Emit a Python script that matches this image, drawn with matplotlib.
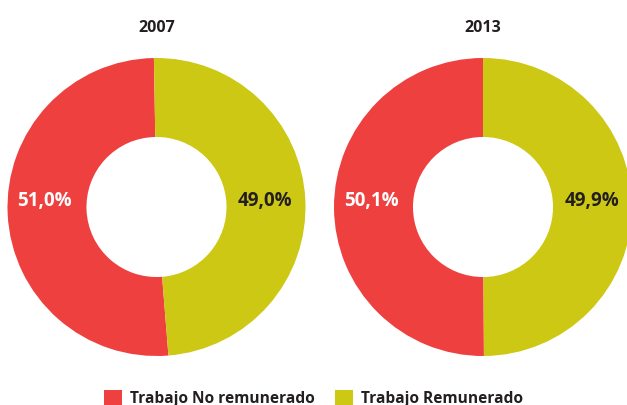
import matplotlib.pyplot as plt
from matplotlib.patches import Patch

plt.rcParams['font.family'] = ['Open Sans', 'DejaVu Sans']

years = ['2007', '2013']
categories = ['Trabajo No remunerado', 'Trabajo Remunerado']
no_remunerado = [51.0, 50.1]
remunerado = [49.0, 49.9]

colors = ['#EF4040', '#CCC814']
text_colors = ['white', '#231F20']

W, H = 627, 406
fig = plt.figure(figsize=(W / 100, H / 100), dpi=100)

# donut geometry in pixels (center x, center y from top, radius)
centers = [(156.5, 208), (483, 208)]
radius = 149
start_angles = [91, 90]

for i, year in enumerate(years):
	cx, cy = centers[i]
	ax = fig.add_axes([(cx - radius) / W, (H - cy - radius) / H, 2 * radius / W, 2 * radius / H])
	vals = [no_remunerado[i], remunerado[i]]
	ax.pie(vals, colors=colors, startangle=start_angles[i], counterclock=True,
		radius=1, wedgeprops=dict(width=0.53, edgecolor='none'))
	ax.set_xlim(-1, 1)
	ax.set_ylim(-1, 1)
	ax.set_aspect('equal')
	ax.axis('off')
	# value labels, written horizontally inside the ring
	for j, xpos in enumerate([-0.75, 0.73]):
		ax.text(xpos, 0.05, f"{vals[j]:.1f}%".replace('.', ','), ha='center', va='center',
			color=text_colors[j], fontsize=13.5, fontweight='bold')
	fig.text(cx / W, 1 - 28 / H, year, ha='center', va='center',
		fontsize=11.5, fontweight='bold', color='#231F20')

handles = [Patch(facecolor=c, edgecolor='none') for c in colors]
fig.legend(handles, categories, loc='center', bbox_to_anchor=(0.5, 1 - 399 / H), ncol=2,
	frameon=False, handlelength=1.15, handleheight=1.15, handletextpad=0.5,
	columnspacing=1.3, prop=dict(weight='bold', size=11.2), labelcolor='#231F20')

fig.savefig('out.png', dpi=100)
